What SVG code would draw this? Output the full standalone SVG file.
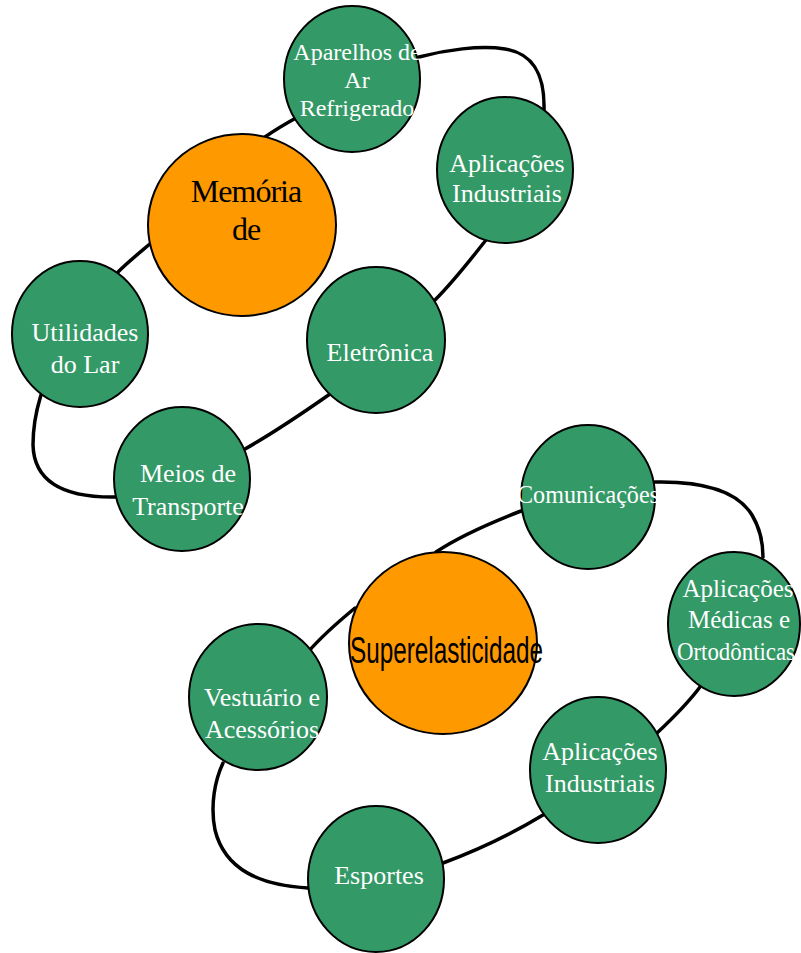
<svg xmlns="http://www.w3.org/2000/svg" width="801" height="953" viewBox="0 0 801 953">
<style>
.c{fill:none;stroke:#000;stroke-width:3.5;stroke-linecap:round}
.g{fill:#339966;stroke:#000;stroke-width:2}
.o{fill:#FF9900;stroke:#000;stroke-width:2}
.t{font-family:"Liberation Serif","Times New Roman",serif;font-size:26px;fill:#fff;text-anchor:middle}
</style>
<rect width="801" height="953" fill="#fff"/>
<g id="connectors">
<path class="c" d="M265,137 C275,130 285,124 296,118"/>
<path class="c" d="M419,57 C445,50 480,45 505,49 C530,53 545,70 544,110"/>
<path class="c" d="M486,240 C470,260 455,280 435,300"/>
<path class="c" d="M330,394 C300,415 275,432 245,449"/>
<path class="c" d="M116,497 C60,498 34,480 33,445 C33,420 38,405 41,395"/>
<path class="c" d="M118,272 C128,262 138,254 151,243"/>
<path class="c" d="M436,552 C460,536 490,523 521,511"/>
<path class="c" d="M655,482 C705,481 738,492 752,515 C761,530 763,545 763,557"/>
<path class="c" d="M700,687 C688,703 673,718 657,733"/>
<path class="c" d="M543,815 C510,835 478,850 443,863"/>
<path class="c" d="M308,888 C260,885 225,870 215,830 C210,805 215,780 223,763"/>
<path class="c" d="M308,652 C322,636 338,622 355,608"/>
</g>
<g id="memoria">
<ellipse class="o" cx="242" cy="225" rx="94" ry="91"/>
<text style="font-family:'Liberation Serif','Times New Roman',serif;font-size:32px;fill:#000;text-anchor:middle" letter-spacing="-1"><tspan x="246" y="202">Memória</tspan><tspan x="246" y="240">de</tspan></text>
</g>
<g id="aparelhos">
<ellipse class="g" cx="352" cy="79" rx="68" ry="73"/>
<text class="t" style="font-size:24px"><tspan x="357" y="60">Aparelhos de</tspan><tspan x="357" y="88">Ar</tspan><tspan x="357" y="116">Refrigerado</tspan></text>
</g>
<g id="aplicacoes-industriais-1">
<ellipse class="g" cx="505" cy="170" rx="68" ry="73"/>
<text class="t"><tspan x="507" y="172">Aplicações</tspan><tspan x="507" y="202">Industriais</tspan></text>
</g>
<g id="eletronica">
<ellipse class="g" cx="376" cy="340" rx="69" ry="73"/>
<text class="t" x="380" y="361">Eletrônica</text>
</g>
<g id="utilidades">
<ellipse class="g" cx="80" cy="334" rx="68" ry="73"/>
<text class="t"><tspan x="85" y="341">Utilidades</tspan><tspan x="85" y="373">do Lar</tspan></text>
</g>
<g id="meios">
<ellipse class="g" cx="182" cy="479" rx="68" ry="72"/>
<text class="t"><tspan x="188" y="482">Meios de</tspan><tspan x="188" y="515">Transporte</tspan></text>
</g>
<g id="superelasticidade">
<ellipse class="o" cx="443" cy="643" rx="94" ry="91"/>
<text x="350" y="663" textLength="193" lengthAdjust="spacingAndGlyphs" style="font-family:'Liberation Sans',Arial,sans-serif;font-size:36px;fill:#000">Superelasticidade</text>
</g>
<g id="comunicacoes">
<ellipse class="g" cx="588" cy="497" rx="67" ry="72"/>
<text class="t" x="588" y="503" textLength="142" lengthAdjust="spacingAndGlyphs">Comunicações</text>
</g>
<g id="medicas">
<ellipse class="g" cx="734" cy="624" rx="66" ry="72"/>
<text class="t" style="font-size:25px"><tspan x="738" y="597">Aplicações</tspan><tspan x="739" y="628">Médicas e</tspan></text>
<text class="t" style="font-size:25px" x="736" y="660" textLength="118" lengthAdjust="spacingAndGlyphs">Ortodônticas</text>
</g>
<g id="aplicacoes-industriais-2">
<ellipse class="g" cx="598" cy="770" rx="68" ry="73"/>
<text class="t"><tspan x="600" y="760">Aplicações</tspan><tspan x="600" y="792">Industriais</tspan></text>
</g>
<g id="vestuario">
<ellipse class="g" cx="258" cy="697" rx="69" ry="73"/>
<text class="t"><tspan x="262" y="706">Vestuário e</tspan><tspan x="262" y="738">Acessórios</tspan></text>
</g>
<g id="esportes">
<ellipse class="g" cx="376" cy="879" rx="68" ry="73"/>
<text class="t" x="379" y="884">Esportes</text>
</g>
</svg>
